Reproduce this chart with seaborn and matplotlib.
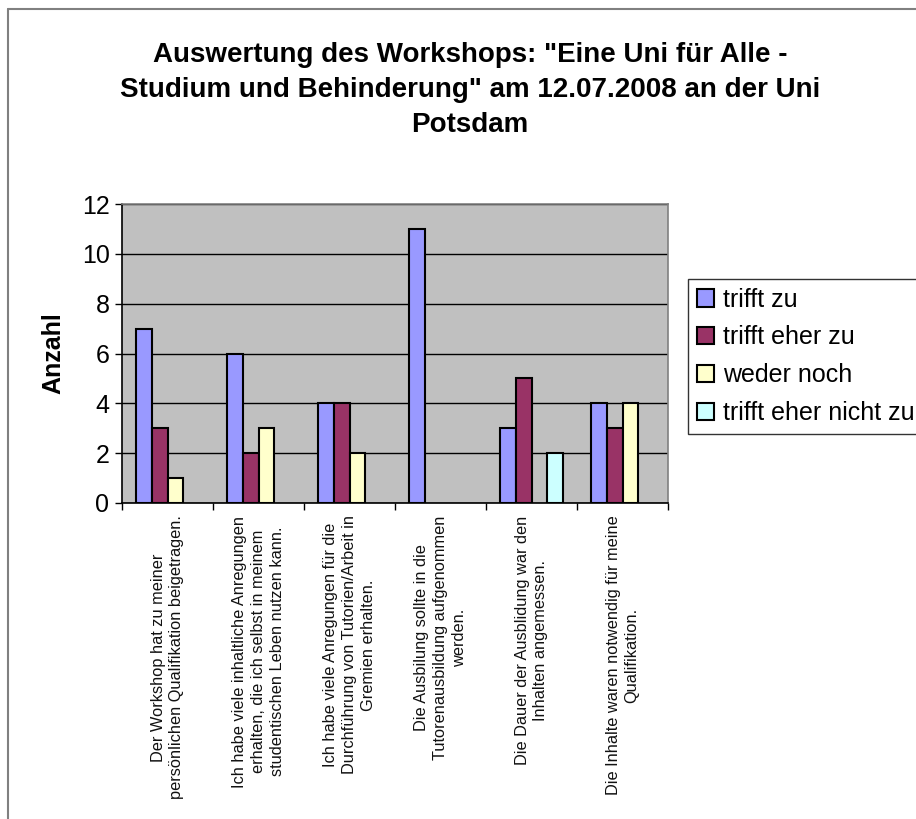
import pandas as pd
import matplotlib
matplotlib.use('Agg')
import matplotlib.pyplot as plt
from matplotlib.lines import Line2D
import seaborn as sns

# Data
questions = [
    "Der Workshop hat zu meiner\npersönlichen Qualifikation beigetragen.",
    "Ich habe viele inhaltliche Anregungen\nerhalten, die ich selbst in meinem\nstudentischen Leben nutzen kann.",
    "Ich habe viele Anregungen für die\nDurchführung von Tutorien/Arbeit in\nGremien erhalten.",
    "Die Ausbilung sollte in die\nTutorenausbildung aufgenommen\nwerden.",
    "Die Dauer der Ausblidung war den\nInhalten angemessen.",
    "Die Inhalte waren notwendig für meine\nQualifikation.",
]
answers = ["trifft zu", "trifft eher zu", "weder noch", "trifft eher nicht zu"]
trifft_zu = [7, 6, 4, 11, 3, 4]
trifft_eher_zu = [3, 2, 4, 0, 5, 3]
weder_noch = [1, 3, 2, 0, 0, 4]
trifft_eher_nicht_zu = [0, 0, 0, 0, 2, 0]
colors = ["#9999FF", "#993366", "#FFFFCC", "#CCFFFF"]

rows = []
for ans, vals in zip(answers, [trifft_zu, trifft_eher_zu, weder_noch, trifft_eher_nicht_zu]):
    for i, v in enumerate(vals):
        if v > 0:
            rows.append({"frage": i, "antwort": ans, "anzahl": v})
df = pd.DataFrame(rows)

sns.set_theme(style="white")
plt.rcParams['font.family'] = ['Liberation Sans', 'DejaVu Sans']
plt.rcParams['text.color'] = 'black'
plt.rcParams['axes.labelcolor'] = 'black'
plt.rcParams['xtick.color'] = 'black'
plt.rcParams['ytick.color'] = 'black'

fig = plt.figure(figsize=(9.16, 8.19), dpi=100)
ax = fig.add_axes([122/916, 1 - 503/819, (668 - 122)/916, (503 - 204)/819])
ax.set_facecolor("#C0C0C0")

sns.barplot(data=df, x="frage", y="anzahl", hue="antwort", hue_order=answers,
            order=list(range(6)), palette=colors, width=0.7, dodge=True,
            edgecolor="black", linewidth=1.5, saturation=1, ax=ax, zorder=3)

ax.set_xlim(-0.5, 5.5)
ax.set_ylim(0, 12)
ax.set_yticks(range(0, 13, 2))
ax.yaxis.grid(True, color="black", linewidth=1, zorder=0)
ax.set_axisbelow(True)
ax.tick_params(axis="y", labelsize=18, length=5, width=1, color="black",
               left=True, direction="out", pad=4)

ax.set_xticks(range(6))
ax.set_xticklabels(questions, rotation=90, fontsize=11.8, ha="center", va="top",
                   multialignment="center", linespacing=1.3, color="#111111")
ax.set_xticks([i - 0.5 for i in range(7)], minor=True)
ax.tick_params(axis="x", which="major", length=0, pad=9)
ax.tick_params(axis="x", which="minor", length=5, width=1, color="black",
               bottom=True, direction="out")

ax.set_xlabel("")
ax.set_ylabel("Anzahl", fontsize=18, fontweight="bold", labelpad=12)

for side in ["left", "bottom"]:
    ax.spines[side].set_color("black")
    ax.spines[side].set_linewidth(1.2)
for side in ["top", "right"]:
    ax.spines[side].set_color("#808080")
    ax.spines[side].set_linewidth(1.2)

handles, labels = ax.get_legend_handles_labels()
ax.get_legend().remove()
leg = fig.legend(handles, labels, loc="upper left",
                 bbox_to_anchor=(688/916, 1 - 279/819), fontsize=18,
                 frameon=True, fancybox=False, shadow=False,
                 handlelength=0.68, handleheight=0.68, handletextpad=0.36,
                 borderpad=0.35, labelspacing=0.55, borderaxespad=0)
leg.get_frame().set_edgecolor("black")
leg.get_frame().set_linewidth(1)

fig.text(0.513, 1 - 42/819,
         "Auswertung des Workshops: \"Eine Uni für Alle -\nStudium und Behinderung\" am 12.07.2008 an der Uni\nPotsdam",
         ha="center", va="top", fontsize=20, fontweight="bold", linespacing=1.45)

# outer chart border (left and top)
fig.add_artist(Line2D([8/916, 8/916], [0, 1 - 9/819], color="#808080", lw=1.5,
                      transform=fig.transFigure))
fig.add_artist(Line2D([8/916, 1], [1 - 9/819, 1 - 9/819], color="#808080", lw=1.5,
                      transform=fig.transFigure))

fig.savefig("out.png", dpi=100)
